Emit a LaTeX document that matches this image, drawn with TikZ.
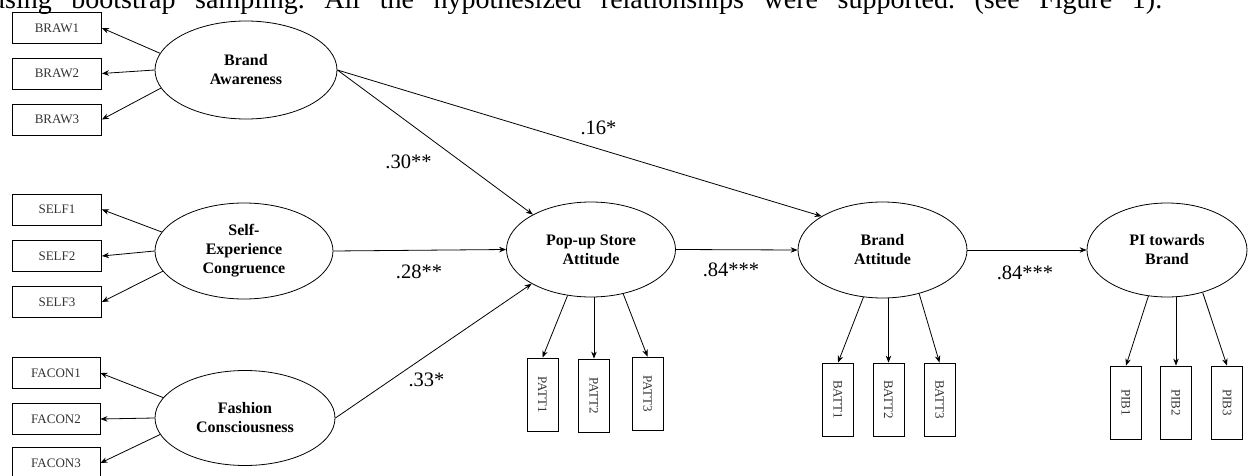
\documentclass[tikz,border=0pt]{standalone}
\usepackage{fontspec}
\setmainfont{Liberation Serif}
\usetikzlibrary{shapes.geometric,arrows.meta}
\begin{document}
\begin{tikzpicture}[x=1pt,y=-1pt,
  lat/.style={draw, ellipse, line width=0.8pt, inner sep=0pt, align=center,
    font=\fontsize{16}{19}\selectfont\bfseries},
  ind/.style={draw, rectangle, line width=0.8pt, inner sep=0pt,
    minimum width=89pt, minimum height=31pt,
    font=\fontsize{13}{15}\selectfont, text=black!80},
  vind/.style={ind, minimum width=31pt, minimum height=73pt},
  arr/.style={-{Stealth[length=7pt,width=5.5pt]}, line width=0.8pt},
  coef/.style={font=\fontsize{20.5}{24}\selectfont, inner sep=0pt}]
\clip (0,0) rectangle (1248,476);
\useasboundingbox (0,0) rectangle (1248,476);

% cut-off line of running text at the top
\node[anchor=base west, inner sep=0pt, font=\fontsize{28}{30}\selectfont] (toptext) at (-9,9)
  {\frenchspacing\makebox[1171pt][s]{using bootstrap sampling. All the hypothesized relationships were supported. (see Figure 1).}};

% latent variables
\node[lat, minimum width=182pt, minimum height=98pt] (BA) at (246,70) {Brand\\Awareness};
\node[lat, minimum width=178pt, minimum height=96pt] (SEC) at (244,251) {Self-\\Experience\\Congruence};
\node[lat, minimum width=180pt, minimum height=95pt] (FC) at (245,418) {Fashion\\Consciousness};
\node[lat, minimum width=169pt, minimum height=95pt] (PSA) at (591,249.5) {Pop-up Store\\Attitude};
\node[lat, minimum width=169pt, minimum height=96pt] (BAT) at (882.5,250) {Brand\\Attitude};
\node[lat, minimum width=160pt, minimum height=94pt] (PIB) at (1167,250) {PI towards\\Brand};

% indicators (left)
\node[ind] (BRAW1) at (57,28) {BRAW1};
\node[ind] (BRAW2) at (57,73.5) {BRAW2};
\node[ind] (BRAW3) at (57,119.5) {BRAW3};
\node[ind] (SELF1) at (57,209.5) {SELF1};
\node[ind] (SELF2) at (57,256) {SELF2};
\node[ind] (SELF3) at (57,302) {SELF3};
\node[ind, minimum width=88pt] (FACON1) at (56,373) {FACON1};
\node[ind, minimum width=88pt] (FACON2) at (56,419) {FACON2};
\node[ind, minimum width=88pt] (FACON3) at (56,463) {FACON3};

% indicators (bottom)
\node[vind] (PATT1) at (542.5,394.5) {\rotatebox{-90}{PATT1}};
\node[vind] (PATT2) at (594,395.5) {\rotatebox{-90}{PATT2}};
\node[vind] (PATT3) at (647.5,393.5) {\rotatebox{-90}{PATT3}};
\node[vind] (BATT1) at (838,399.5) {\rotatebox{-90}{BATT1}};
\node[vind] (BATT2) at (888.5,399.5) {\rotatebox{-90}{BATT2}};
\node[vind] (BATT3) at (939.5,399.5) {\rotatebox{-90}{BATT3}};
\node[vind] (PIB1) at (1126,402.5) {\rotatebox{-90}{PIB1}};
\node[vind] (PIB2) at (1176,402.5) {\rotatebox{-90}{PIB2}};
\node[vind] (PIB3) at (1227,402.5) {\rotatebox{-90}{PIB3}};

% measurement arrows
\draw[arr] (BA.169) -- (BRAW1.east);
\draw[arr] (BA.west) -- (BRAW2.east);
\draw[arr] (BA.192) -- (BRAW3.east);
\draw[arr] (SEC.167) -- (SELF1.east);
\draw[arr] (SEC.west) -- (SELF2.east);
\draw[arr] (SEC.194) -- (SELF3.east);
\draw[arr] (FC.166) -- (FACON1.east);
\draw[arr] (FC.west) -- (FACON2.east);
\draw[arr] (FC.191) -- (FACON3.east);

\draw[arr] (PSA.243) -- (PATT1.north);
\draw[arr] (PSA.south -| PATT2.north) -- (PATT2.north);
\draw[arr] (PSA.306) -- (PATT3.north);
\draw[arr] (BAT.248) -- (BATT1.north);
\draw[arr] (BAT.south -| BATT2.north) -- (BATT2.north);
\draw[arr] (BAT.310) -- (BATT3.north);
\draw[arr] (PIB.248) -- (PIB1.north);
\draw[arr] (PIB.south -| PIB2.north) -- (PIB2.north);
\draw[arr] (PIB.310) -- (PIB3.north);

% structural arrows
\draw[arr] (BA.east) -- (PSA.149);
\draw[arr] (BA.east) -- (BAT.151);
\draw[arr] (SEC.east) -- (PSA.west);
\draw[arr] (FC.east) -- (PSA.210);
\draw[arr] (PSA.east) -- (BAT.west);
\draw[arr] (BAT.east) -- (PIB.west);

% coefficients
\node[coef] (c1) at (408.5,162) {.30**};
\node[coef] (c2) at (598.5,128) {.16*};
\node[coef] (c3) at (419,272) {.28**};
\node[coef] (c4) at (426.5,380) {.33*};
\node[coef] (c5) at (731,270) {.84***};
\node[coef] (c6) at (1025,273) {.84***};
\end{tikzpicture}
\end{document}
